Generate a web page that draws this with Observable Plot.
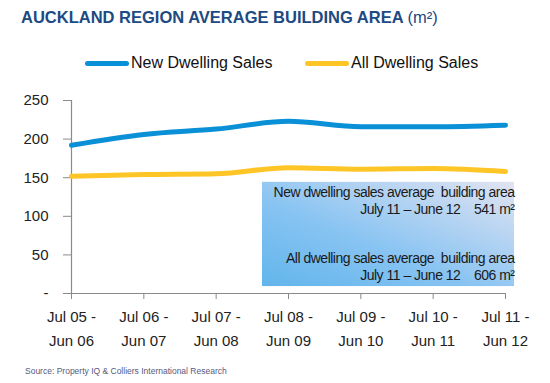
<!DOCTYPE html>
<html>
<head>
<meta charset="utf-8">
<script src="https://cdn.jsdelivr.net/npm/d3@7"></script>
<script src="https://cdn.jsdelivr.net/npm/@observablehq/plot@0.6"></script>
<style>
  html, body { margin: 0; padding: 0; background: #fff; }
  #wrap { position: relative; width: 550px; height: 383px; overflow: hidden; font-family: "Liberation Sans", Arial, sans-serif; }
  #title { position: absolute; left: 21px; top: 8px; font-size: 16.5px; font-weight: bold; color: #1d4a82; white-space: nowrap; letter-spacing: 0px; }
  #title .unit { font-weight: normal; }
  #legend { position: absolute; left: 0; top: 52px; width: 550px; height: 22px; font-size: 16px; color: #111; }
  .li { position: absolute; top: 0; display: flex; align-items: center; height: 22px; white-space: nowrap; }
  .sw { display: inline-block; width: 44px; height: 5px; border-radius: 3px; margin-right: 2px; }
  #chart { position: absolute; left: 0; top: 88px; }
  #source { position: absolute; left: 25px; top: 366px; font-size: 8.5px; color: #555a80; white-space: nowrap; }
  .note text { letter-spacing: -0.5px; }
</style>
</head>
<body>
<div id="wrap">
  <div id="title">AUCKLAND REGION AVERAGE BUILDING AREA <span class="unit">(m²)</span></div>
  <div id="legend"></div>
  <div id="chart"></div>
  <div id="source">Source: Property IQ &amp; Colliers International Research</div>
</div>
<script>
// ---- data ----
const periods = ["Jul 05 -\nJun 06", "Jul 06 -\nJun 07", "Jul 07 -\nJun 08", "Jul 08 -\nJun 09", "Jul 09 -\nJun 10", "Jul 10 -\nJun 11", "Jul 11 -\nJun 12"];
const newDwelling = [192, 206, 213, 223, 216, 216, 218];
const allDwelling = [152, 154, 155, 163, 161, 162, 158];
const seriesNames = ["New Dwelling Sales", "All Dwelling Sales"];
const seriesColors = ["#0a90d6", "#fdc526"];
const yTicks = [0, 50, 100, 150, 200, 250];
const yTickLabels = ["-", "50", "100", "150", "200", "250"];
const noteLines = [
  "New dwelling sales average  building area",
  "July 11 \u2013 June 12    541 m\u00b2",
  "All dwelling sales average  building area",
  "July 11 \u2013 June 12    606 m\u00b2"
];

// ---- table ----
const rows = [];
periods.forEach((p, i) => {
  rows.push({i, series: seriesNames[0], value: newDwelling[i]});
  rows.push({i, series: seriesNames[1], value: allDwelling[i]});
});

// legend
const legend = document.getElementById("legend");
const legendX = [85, 305];
seriesNames.forEach((s, k) => {
  const d = document.createElement("div");
  d.className = "li";
  d.style.left = legendX[k] + "px";
  d.innerHTML = `<span class="sw" style="background:${seriesColors[k]}"></span><span>${s}</span>`;
  legend.appendChild(d);
});

const noteY = [131, 109, 45, 23];
const noteData = noteLines.map((t, k) => ({t, y: noteY[k]}));

const chart = Plot.plot({
  width: 550,
  height: 270,
  marginTop: 12,
  marginBottom: 65,
  marginLeft: 71,
  marginRight: 45,
  style: {fontFamily: "Liberation Sans, Arial, sans-serif", fontSize: "15px", color: "#222", background: "transparent"},
  x: {domain: [0, periods.length - 1], label: null},
  y: {domain: [0, 250], label: null},
  color: {domain: seriesNames, range: seriesColors},
  marks: [
    Plot.rect([{}], {x1: 2.64, x2: 6.125, y1: 9, y2: 144, fill: "url(#noteGrad)"}),
    Plot.text(noteData, {x: 6.125, y: "y", text: "t", textAnchor: "end", fontSize: 14, fill: "#1a1a1a", className: "note"}),
    Plot.ruleX([0], {y1: 0, y2: 250, stroke: "#8a8a8a", strokeWidth: 1.2}),
    Plot.ruleY([0], {x1: -0.11, x2: periods.length - 1, stroke: "#8a8a8a", strokeWidth: 1.2}),
    Plot.axisY({ticks: yTicks, tickFormat: (d) => yTickLabels[yTicks.indexOf(d)], tickSize: 8, tickPadding: 15, stroke: "#8a8a8a", fill: "#222", fontSize: 15, label: null}),
    Plot.axisX({ticks: d3.range(periods.length), tickFormat: (d) => periods[d], tickSize: 6, tickPadding: 5, stroke: "#8a8a8a", fill: "#222", fontSize: 15, lineHeight: 1.6, label: null}),
    Plot.line(rows, {x: "i", y: "value", z: "series", stroke: "series", strokeWidth: 5, curve: "monotone-x", strokeLinecap: "round"})
  ]
});

// gradient definition for the annotation box
const svgNS = "http://www.w3.org/2000/svg";
const defs = document.createElementNS(svgNS, "defs");
defs.innerHTML = `<linearGradient id="noteGrad" x1="0" y1="1" x2="1" y2="0">
  <stop offset="0" stop-color="#62b5eb"/>
  <stop offset="0.4" stop-color="#86c3f2"/>
  <stop offset="0.75" stop-color="#bcd6f2"/>
  <stop offset="1" stop-color="#e2e4f1"/>
</linearGradient>`;
chart.insertBefore(defs, chart.firstChild);
document.getElementById("chart").appendChild(chart);
</script>
</body>
</html>
